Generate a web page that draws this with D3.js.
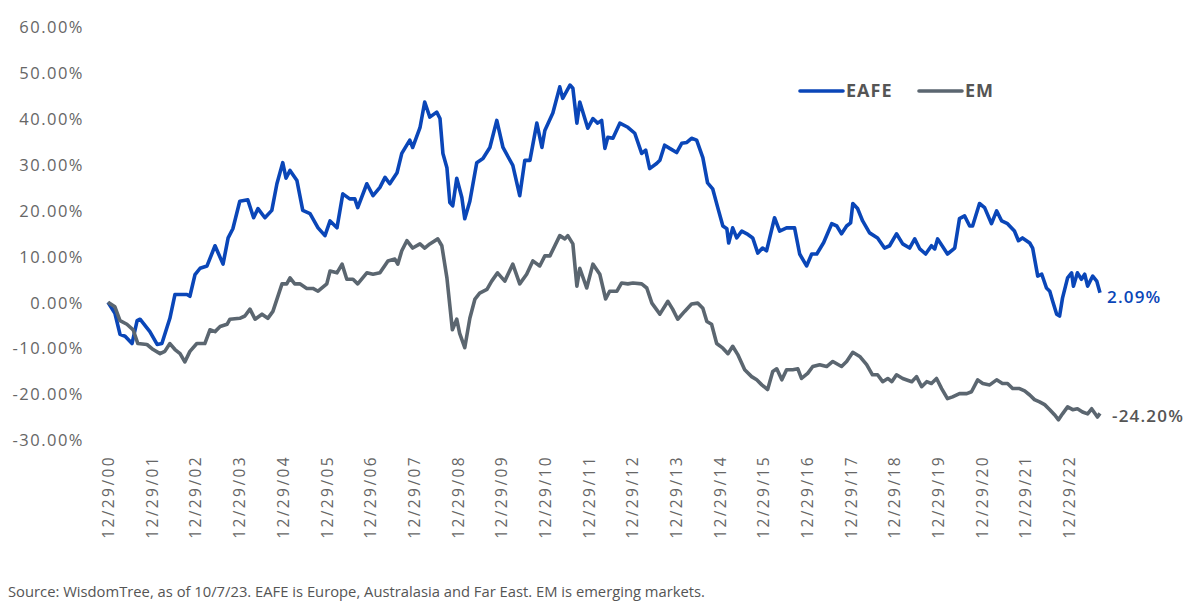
<!DOCTYPE html>
<html>
<head>
  <meta charset="utf-8">
  <title>EAFE vs EM</title>
  <script src="https://d3js.org/d3.v7.min.js"></script>
  <style>
    body { margin: 0; background: #fff; font-family: "Open Sans", sans-serif; }
    .axis text { fill: #666; font-family: "Open Sans", sans-serif; }
    .y-axis text { font-size: 16.5px; letter-spacing: 1.5px; }
    .x-axis text { font-size: 15.5px; letter-spacing: 2.4px; }
    .legend-label { fill: #555; font-size: 18px; font-weight: 700; letter-spacing: 1px; }
    .end-label { font-size: 17px; font-weight: 600; letter-spacing: 1.2px; }
    .source { fill: #555; font-size: 15px; }
  </style>
</head>
<body>
  <div id="chart"></div>
  <script>
    // months since 12/29/00, cumulative return in %
    const eafeMonths = [0,1.9,3.3,4.7,6.6,8,8.8,11.5,13.5,14.8,
      17,18.4,21.7,22.5,23.9,25.3,27.2,29.4,31.6,33,
      34.3,36.2,38.4,40,41.2,43.1,45,46.4,48,48.9,
      50,51.9,53.5,55.5,57.7,59.6,61,62.9,64.5,66.4,
      67.8,68.6,71.1,72.8,74.7,76.1,77.4,79.4,80.7,82.9,
      83.7,85.7,87,88.4,90.3,91.2,92,93.1,93.9,94.7,
      95.8,97.2,98,99.4,101.3,103,104.9,106.8,108.5,111.2,
      113.1,114.5,115.9,117.8,119.2,120,122.2,124.1,124.9,126.9,
      127.7,128.8,129.6,131.8,133.2,134.5,135.6,136.5,137.3,138.7,
      140.6,142.8,144.7,146.6,147.7,148.8,150.7,151.6,152.9,154.3,
      156.2,157.6,159,160.3,161.7,163.4,164.7,166.1,167.5,168.9,
      170,170.5,171.6,172.7,174.1,175.5,177.1,178.5,179.8,180.9,
      183.1,184.5,186.4,188.6,190,191.9,193.3,194.7,196.6,198.8,
      200.2,201.5,202.9,204,204.6,205.9,207.3,209.2,211.4,213.3,
      214.7,216.6,218.3,220.2,221.6,223,224.6,226.2,227.1,227.9,
      230.6,232.6,233.9,235.3,236.7,237.5,239.4,240.8,242.7,244.1,
      245.5,247.1,249,250.1,251.2,253.2,254,255.4,256.5,257.8,
      258.7,259.5,260.6,261.4,262.2,263.6,264.7,265.2,266.3,267.4,
      268.3,269.1,270.5,271.6,272.5];
    const eafeValues = [0,-2.4,-7,-7.4,-9,-4,-3.7,-6.4,-9.2,-9,
      -3.5,1.7,1.7,1.3,6,7.4,7.9,12.3,8.3,14,
      16,22,22.3,18.4,20.4,18.4,20,25.8,30.4,27,
      28.7,26.5,20,19.3,16.2,14.5,17.7,16.2,23.6,22.5,
      22.5,20.6,25.8,23.2,25,27.2,25.8,28.2,32.4,35.3,
      33.7,38,43.6,40.3,41.4,40,32.4,29.3,21.7,21,
      27,22.8,18.2,22,30.4,31.3,33.7,39.6,33.7,29.8,
      23.2,30.9,30.9,39,33.7,37.4,41.2,46.9,44.4,47.3,
      46.6,39,43.6,37.9,40,39,39.6,33.5,35.9,35.7,
      39,38.1,36.8,32.4,33.1,29.1,30.2,30.9,34.2,33.5,
      32.6,34.6,34.8,35.7,35.3,31.5,26,24.7,20.6,16.6,
      16,12.9,16.2,14,15.5,14.9,14,10.7,11.8,11.2,
      18.4,15.5,16.2,16.2,10.5,7.9,10.5,10.5,13,17.1,
      16.6,14.9,16.6,17.3,21.5,20.4,17.7,15.1,14,11.8,
      12.3,14.9,12.7,11.8,13.8,11.6,10.5,12.3,11.6,13.8,
      10.5,11.8,18.2,18.8,16.6,16.6,21.5,20.6,17.1,19.9,
      17.7,17.1,15.5,13.4,14,12.9,11.8,5.7,6.1,3.1,
      2.4,0.2,-2.6,-3,0.9,5.3,6.4,3.5,6.4,5,
      6.1,3.5,5.7,4.6,2.09];

    const emMonths = [0,1.9,3.3,5.2,6.9,8.2,10.7,12.4,14.3,15.6,
      17,18.4,19.8,21.1,22.5,24.4,26.6,28,29.4,30.8,
      32.7,33.5,36.2,37.6,39,40.4,42.3,43.9,45.3,47.8,
      49.1,50,51.3,52.7,54.6,56.3,57.7,60.1,61,62.9,
      64.3,65.6,67.3,68.6,71.1,72.8,74.7,76.9,78.8,79.6,
      80.7,82.1,83.7,85.7,87,88.4,90.6,91.7,93.1,94.6,
      95.8,96.6,98,99.4,100.8,102.1,104.1,105.4,107,109,
      111.2,113.1,115,116.7,118.6,120,121.4,124.1,125.5,126.3,
      127.7,128.8,129.6,131.5,133.2,135.1,136.7,137.8,139.8,141.1,
      142.8,144.2,146.6,148,149.4,151.6,153.8,155.1,156.5,158.4,
      160.3,162,163.4,164.5,165.8,167.2,168.9,170.3,171.6,173,
      174.9,176.8,178.2,179.6,181.2,182.6,183.7,185.1,186.4,188.1,
      189.5,190.5,192.2,193.6,195.5,197.4,199.1,201.5,202.9,204.6,
      206.5,208.4,210,211.4,212.8,214.2,215.3,216.6,218.3,220.8,
      222.1,223.5,224.9,226.2,227.6,229,230.6,232,233.9,235.9,
      237.2,238.9,240.3,242.2,244.1,245.7,247.1,248.5,250.4,251.8,
      253.2,254.5,255.9,257.3,258.7,260,261.1,262.2,263.6,265,
      266.3,267.7,269.1,270.2,271.8,272.5];
    const emValues = [0,-1,-4,-4.8,-6,-9,-9.2,-10.3,-11.2,-10.7,
      -9,-10.3,-11.2,-13,-10.7,-9,-9,-6,-6.4,-5.3,
      -4.8,-3.7,-3.5,-3,-1.5,-3.7,-2.6,-3.5,-2,4,
      4,5.3,4,4,3,3,2.4,4,6.8,6.4,
      8.3,5,5,4,6.4,6.1,6.4,9,9.4,8.3,
      11.2,13.4,11.8,12.7,11.8,12.7,13.8,12.3,5.3,-6,
      -3.7,-6.8,-9.9,-3.5,0.7,2,2.8,4.6,6.4,4.6,
      8.3,4,6.1,9,7.9,10.1,10.1,14.5,13.8,14.5,
      12.7,3.5,7.4,3.1,8.3,6.1,0.7,2.4,2.4,4.2,
      4,4.2,4,3.1,-0.2,-2.6,0.2,-1.5,-3.7,-2,
      -0.4,-0.2,-1.3,-4.2,-4.8,-9,-10,-11.2,-9.6,-11.4,
      -14.7,-16.2,-16.9,-18,-19,-15.1,-14.5,-16.9,-14.7,-14.7,
      -14.5,-16.6,-15.5,-14,-13.6,-14,-12.9,-14,-12.9,-10.9,
      -11.8,-13.6,-15.8,-15.8,-17.3,-16.6,-17.3,-15.8,-16.6,-17.3,
      -16.2,-18.4,-17.3,-17.7,-16.6,-18.8,-21,-20.6,-19.9,-19.9,
      -19.5,-16.9,-17.7,-18,-16.9,-17.7,-17.7,-18.8,-18.8,-19.3,
      -20.2,-21.2,-21.7,-22.3,-23.4,-24.5,-25.6,-24.3,-22.8,-23.4,
      -23.2,-23.9,-24.3,-23.2,-25,-24.2];

    const xTickLabels = ["12/29/00","12/29/01","12/29/02","12/29/03","12/29/04","12/29/05",
      "12/29/06","12/29/07","12/29/08","12/29/09","12/29/10","12/29/11","12/29/12",
      "12/29/13","12/29/14","12/29/15","12/29/16","12/29/17","12/29/18","12/29/19",
      "12/29/20","12/29/21","12/29/22"];
    const yTicks = [-30, -20, -10, 0, 10, 20, 30, 40, 50, 60];
    const seriesNames = ["EAFE", "EM"];
    const seriesColors = ["#0a46b8", "#5b6670"];

    const width = 1200, height = 616;
    const svg = d3.select("#chart").append("svg")
      .attr("width", width)
      .attr("height", height);

    const x = d3.scaleLinear().domain([0, 272.5]).range([108, 1100]);
    const y = d3.scaleLinear().domain([-30, 60]).range([440, 26.7]);

    const pct = v => v.toFixed(2) + "%";

    // y axis
    const yAxis = svg.append("g")
      .attr("class", "axis y-axis")
      .attr("transform", "translate(84,0)")
      .call(d3.axisLeft(y).tickValues(yTicks).tickSize(0).tickPadding(0).tickFormat(pct));
    yAxis.select(".domain").remove();
    yAxis.selectAll("text").attr("dy", "0.35em");

    // x axis with rotated labels
    const xAxis = svg.append("g")
      .attr("class", "axis x-axis")
      .attr("transform", "translate(0,455)")
      .call(d3.axisBottom(x).tickValues(xTickLabels.map((d, i) => i * 12)).tickSize(0)
        .tickFormat((d, i) => xTickLabels[i]));
    xAxis.select(".domain").remove();
    xAxis.selectAll("text")
      .attr("transform", "rotate(-90)")
      .attr("text-anchor", "end")
      .attr("x", 0)
      .attr("y", 0)
      .attr("dy", "0.36em");

    // lines
    const series = [
      { name: "EAFE", months: eafeMonths, values: eafeValues },
      { name: "EM", months: emMonths, values: emValues }
    ];
    const line = d3.line().x(d => x(d[0])).y(d => y(d[1]));

    series.forEach((s, i) => {
      const pts = s.months.map((m, j) => [m, s.values[j]]);
      svg.append("path")
        .datum(pts)
        .attr("fill", "none")
        .attr("stroke", seriesColors[i])
        .attr("stroke-width", 3.6)
        .attr("stroke-linejoin", "round")
        .attr("d", line);
    });

    // end labels
    const eafeLast = eafeValues[eafeValues.length - 1];
    const emLast = emValues[emValues.length - 1];
    svg.append("text")
      .attr("class", "end-label")
      .attr("x", x(eafeMonths[eafeMonths.length - 1]) + 7)
      .attr("y", y(eafeLast) + 4)
      .attr("dy", "0.35em")
      .attr("fill", seriesColors[0])
      .text(pct(eafeLast));

    svg.append("text")
      .attr("class", "end-label")
      .attr("x", x(emMonths[emMonths.length - 1]) + 12)
      .attr("y", y(emLast) + 3)
      .attr("dy", "0.35em")
      .attr("fill", "#555")
      .text(pct(emLast));

    // legend
    const legend = svg.append("g").attr("transform", "translate(800,91)");
    const legendOffsets = [0, 119];
    seriesNames.forEach((name, i) => {
      const g = legend.append("g").attr("transform", `translate(${legendOffsets[i]},0)`);
      g.append("line")
        .attr("x1", 0).attr("x2", 43)
        .attr("y1", 0).attr("y2", 0)
        .attr("stroke", seriesColors[i])
        .attr("stroke-width", 3.6)
        .attr("stroke-linecap", "round");
      g.append("text")
        .attr("class", "legend-label")
        .attr("x", 46)
        .attr("y", 0)
        .attr("dy", "0.36em")
        .text(name);
    });

    // source note
    svg.append("text")
      .attr("class", "source")
      .attr("x", 8)
      .attr("y", 597)
      .attr("textLength", 697)
      .attr("lengthAdjust", "spacingAndGlyphs")
      .text("Source: WisdomTree, as of 10/7/23. EAFE is Europe, Australasia and Far East. EM is emerging markets.");
  </script>
</body>
</html>
